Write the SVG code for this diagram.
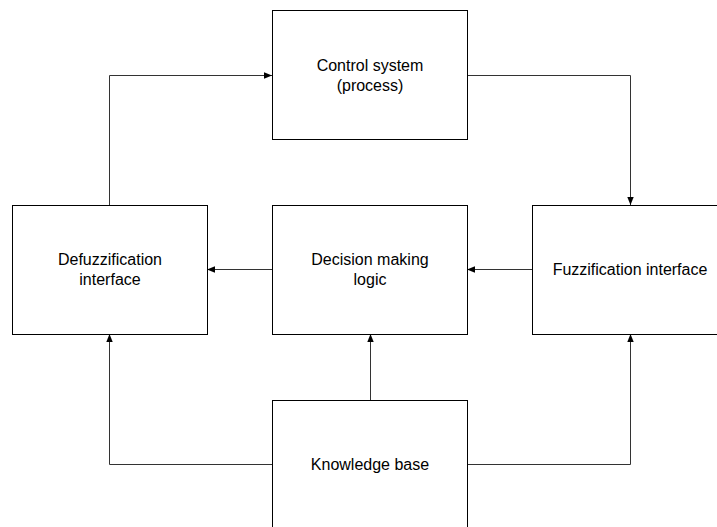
<svg xmlns="http://www.w3.org/2000/svg" width="717" height="527" viewBox="0 0 717 527">
<style>
.box{fill:#fff;stroke:#000;stroke-width:1}
.lbl{font-family:"Liberation Sans",Arial,sans-serif;font-size:16px;fill:#000;text-anchor:middle}
.con{fill:none;stroke:#333;stroke-width:1;marker-end:url(#ah)}
</style>
<defs>
<marker id="ah" viewBox="0 0 10 10" refX="10" refY="5" markerWidth="8" markerHeight="8" markerUnits="userSpaceOnUse" orient="auto">
<path d="M0,1 L10,5 L0,9 z" fill="#000"/>
</marker>
</defs>
<rect width="717" height="527" fill="#fff"/>
<g id="connectors">
<path class="con" d="M109.5,205 V75.5 H272"/>
<path class="con" d="M467,75.5 H630.5 V205"/>
<path class="con" d="M532,269.5 H467"/>
<path class="con" d="M272,269.5 H207"/>
<path class="con" d="M370.5,400 V334"/>
<path class="con" d="M272,464.5 H109.5 V334"/>
<path class="con" d="M467,464.5 H630.5 V334"/>
</g>
<g id="control">
<rect class="box" x="272.5" y="10.5" width="195" height="129"/>
<text class="lbl" x="370" y="71">Control system</text>
<text class="lbl" x="370" y="91">(process)</text>
</g>
<g id="defuzz">
<rect class="box" x="12.5" y="205.5" width="195" height="129"/>
<text class="lbl" x="110" y="265">Defuzzification</text>
<text class="lbl" x="110" y="285">interface</text>
</g>
<g id="decision">
<rect class="box" x="272.5" y="205.5" width="195" height="129"/>
<text class="lbl" x="370" y="265">Decision making</text>
<text class="lbl" x="370" y="285">logic</text>
</g>
<g id="fuzz">
<rect class="box" x="532.5" y="205.5" width="195" height="129"/>
<text class="lbl" x="630" y="275">Fuzzification interface</text>
</g>
<g id="kb">
<rect class="box" x="272.5" y="400.5" width="195" height="140"/>
<text class="lbl" x="370" y="470">Knowledge base</text>
</g>
</svg>
